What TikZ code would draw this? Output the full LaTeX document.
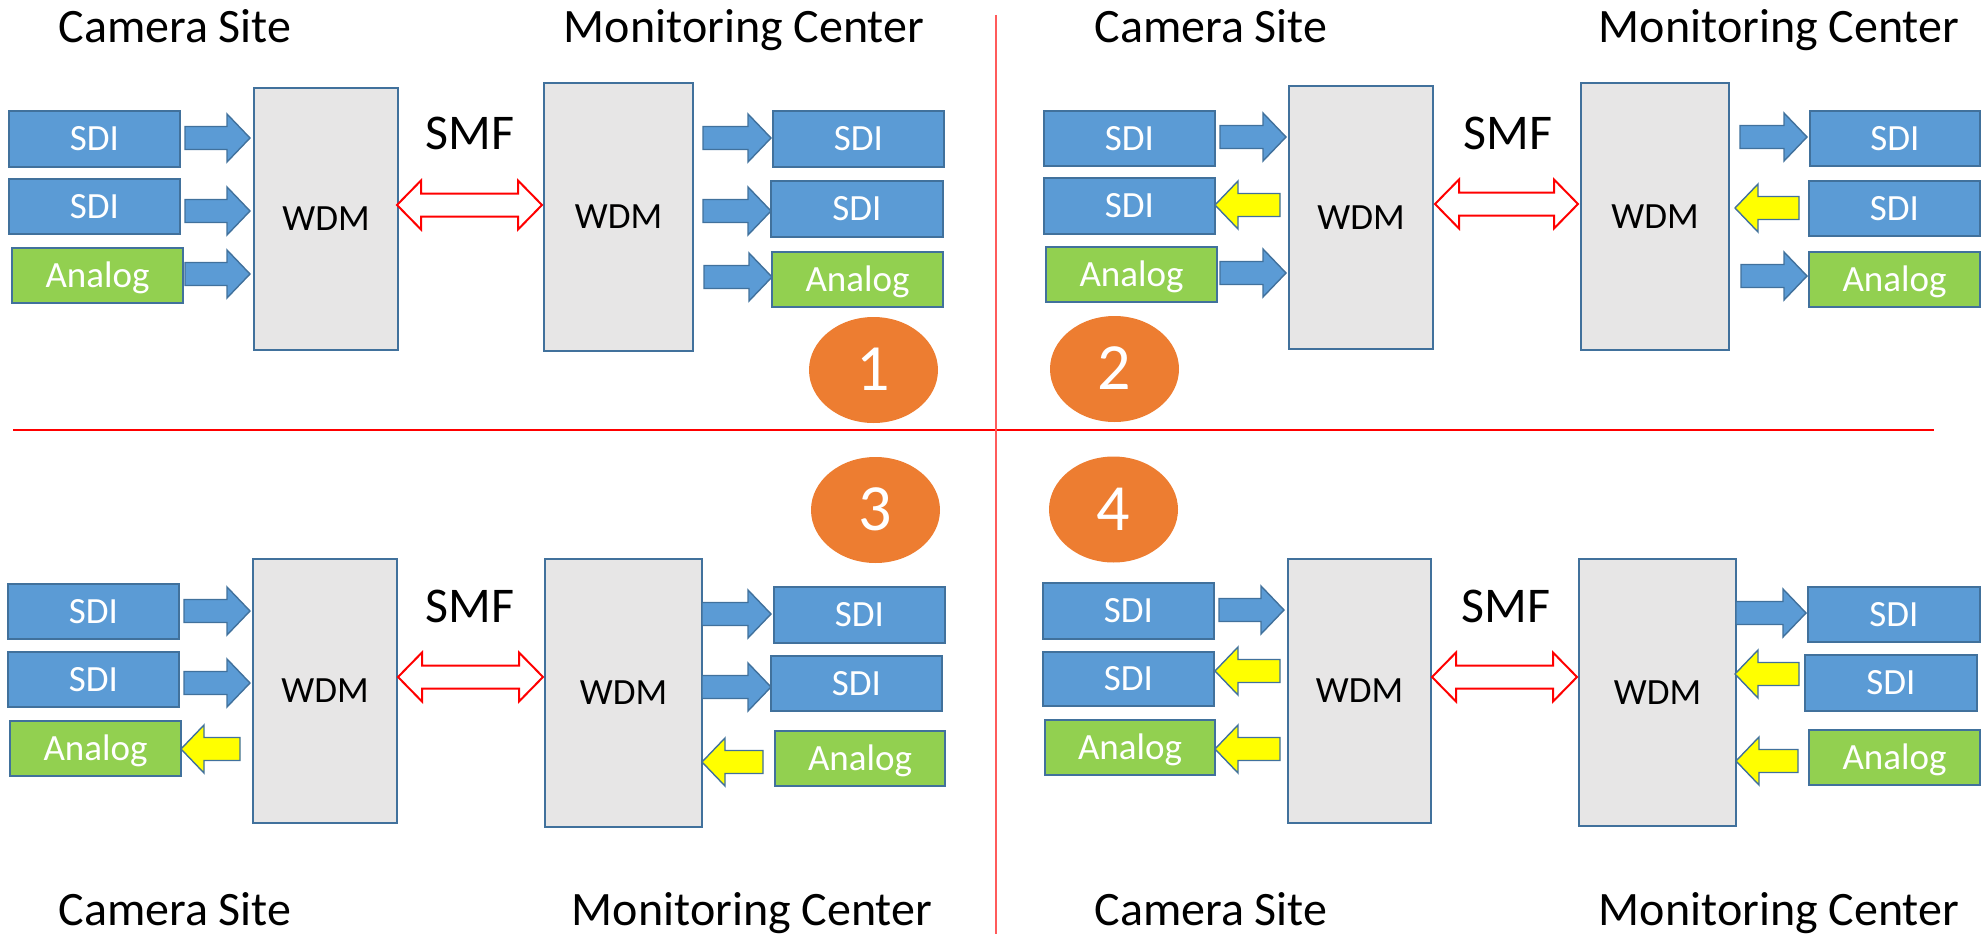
\documentclass[tikz,border=0pt]{standalone}
\usepackage{fontspec}
\setmainfont{Carlito}
\usetikzlibrary{shapes.geometric}
\definecolor{sdiblue}{HTML}{5B9BD5}
\definecolor{edgeblue}{HTML}{41719C}
\definecolor{anagreen}{HTML}{92D050}
\definecolor{wdmgray}{HTML}{E7E6E6}
\definecolor{arryellow}{HTML}{FFFF00}
\definecolor{numorange}{HTML}{ED7D31}
\definecolor{vline}{HTML}{FF5B5B}
\newcommand\placebox[7]{\node[#1,minimum width={(#4-#2)*1pt},minimum height={(#5-#3)*1pt}] (#6) at ({(#2+#4)/2},{(#3+#5)/2}) {#7};}
\newcommand\blockarrow[4]{%
  \pgfmathsetmacro\hl{#3>#2 ? 23 : -23}%
  \draw[#1] ({#2},{#4-11.5}) -- ({#3-\hl},{#4-11.5}) -- ({#3-\hl},{#4-24}) -- ({#3},{#4}) -- ({#3-\hl},{#4+24}) -- ({#3-\hl},{#4+11.5}) -- ({#2},{#4+11.5}) -- cycle;}
\newcommand\smfarrow[3]{%
  \draw[smf] ({#1},{#3}) -- ({#1+24},{#3-24.5}) -- ({#1+24},{#3-11.5}) -- ({#2-24},{#3-11.5}) -- ({#2-24},{#3-24.5}) -- ({#2},{#3}) -- ({#2-24},{#3+24.5}) -- ({#2-24},{#3+11.5}) -- ({#1+24},{#3+11.5}) -- ({#1+24},{#3+24.5}) -- cycle;}
\tikzset{
  boxbase/.style={rectangle,draw=edgeblue,line width=2.6pt,inner sep=0pt,text=white,
    font=\fontsize{37}{40}\selectfont,text height=23.4pt,text depth=0pt},
  sdi/.style={boxbase,fill=sdiblue},
  ana/.style={boxbase,fill=anagreen},
  wdm/.style={boxbase,fill=wdmgray,line width=2pt,text=black},
  barrow/.style={fill=sdiblue,draw=edgeblue,line width=1.4pt,line join=miter},
  yarrow/.style={fill=arryellow,draw=edgeblue,line width=1.4pt,line join=miter},
  smf/.style={fill=white,draw=red,line width=2pt,line join=miter},
  lbl/.style={anchor=base,inner sep=0pt,font=\fontsize{48}{52}\selectfont},
  smflbl/.style={anchor=base,inner sep=0pt,font=\fontsize{50}{54}\selectfont},
  num/.style={ellipse,fill=numorange,inner sep=0pt,minimum width=129pt,minimum height=106pt,
    text=white,font=\fontsize{66}{70}\selectfont,text height=41.5pt,text depth=0pt}
}
\begin{document}
\begin{tikzpicture}[x=1pt,y=-1pt]
\useasboundingbox (0,0) rectangle (1982,934);
% separators
\draw[red,line width=2pt] (13,430) -- (1934,430);
\draw[vline,line width=2.4pt] (996,15) -- (996,934);
% ---------- labels
\node[lbl] (t1c) at (175,43) {Camera Site};
\node[lbl] (t1m) at (744,43) {Monitoring Center};
\node[lbl] (t2c) at (1211,43) {Camera Site};
\node[lbl] (t2m) at (1779,43) {Monitoring Center};
\node[lbl] (b3c) at (175,925) {Camera Site};
\node[lbl] (b3m) at (752,925) {Monitoring Center};
\node[lbl] (b4c) at (1211,925) {Camera Site};
\node[lbl] (b4m) at (1779,925) {Monitoring Center};
% ---------- panel 1
\placebox{sdi}{9}{111}{180}{167}{p1s1}{SDI}
\placebox{sdi}{9}{179}{180}{234}{p1s2}{SDI}
\placebox{ana}{12}{248}{183}{303}{p1a}{Analog}
\placebox{wdm}{254}{88}{398}{350}{p1wl}{WDM}
\placebox{wdm}{544}{83}{693}{351}{p1wr}{WDM}
\placebox{sdi}{773}{111}{944}{167}{p1r1}{SDI}
\placebox{sdi}{771}{181}{943}{237}{p1r2}{SDI}
\placebox{ana}{772}{252}{943}{307}{p1r3}{Analog}
\blockarrow{barrow}{185}{250}{138}
\blockarrow{barrow}{185}{250}{211}
\blockarrow{barrow}{185}{250}{274}
\blockarrow{barrow}{703}{771}{138}
\blockarrow{barrow}{703}{771}{211}
\blockarrow{barrow}{704}{772}{277}
\smfarrow{397}{542}{205}
\node[smflbl] (p1smf) at (470,149) {SMF};
\node[num] (n1) at (873.5,370) {1};
% ---------- panel 2
\placebox{sdi}{1044}{111}{1215}{166}{p2s1}{SDI}
\placebox{sdi}{1044}{178}{1215}{234}{p2s2}{SDI}
\placebox{ana}{1046}{247}{1217}{302}{p2a}{Analog}
\placebox{wdm}{1289}{86}{1433}{349}{p2wl}{WDM}
\placebox{wdm}{1581}{83}{1729}{350}{p2wr}{WDM}
\placebox{sdi}{1810}{111}{1980}{166}{p2r1}{SDI}
\placebox{sdi}{1809}{181}{1980}{236}{p2r2}{SDI}
\placebox{ana}{1809}{252}{1980}{307}{p2r3}{Analog}
\blockarrow{barrow}{1220}{1286}{137}
\blockarrow{yarrow}{1280}{1215}{205}
\blockarrow{barrow}{1220}{1286}{273}
\blockarrow{barrow}{1740}{1807}{137}
\blockarrow{yarrow}{1799}{1735}{208}
\blockarrow{barrow}{1741}{1807}{276}
\smfarrow{1435}{1578}{204}
\node[smflbl] (p2smf) at (1508,149) {SMF};
\node[num] (n2) at (1114.5,369) {2};
% ---------- panel 3
\placebox{sdi}{8}{584}{179}{639}{p3s1}{SDI}
\placebox{sdi}{8}{652}{179}{707}{p3s2}{SDI}
\placebox{ana}{10}{721}{181}{776}{p3a}{Analog}
\placebox{wdm}{253}{559}{397}{823}{p3wl}{WDM}
\placebox{wdm}{545}{559}{702}{827}{p3wr}{WDM}
\placebox{sdi}{774}{587}{945}{643}{p3r1}{SDI}
\placebox{sdi}{771}{656}{942}{711}{p3r2}{SDI}
\placebox{ana}{775}{731}{945}{786}{p3r3}{Analog}
\blockarrow{barrow}{184}{250}{611}
\blockarrow{barrow}{184}{250}{683}
\blockarrow{yarrow}{240}{181}{749}
\blockarrow{barrow}{702}{771}{614}
\blockarrow{barrow}{702}{771}{687}
\blockarrow{yarrow}{763}{702}{762}
\smfarrow{398}{543}{677}
\node[smflbl] (p3smf) at (470,622) {SMF};
\node[num] (n3) at (875.5,510) {3};
% ---------- panel 4
\placebox{sdi}{1043}{583}{1214}{639}{p4s1}{SDI}
\placebox{sdi}{1043}{652}{1214}{706}{p4s2}{SDI}
\placebox{ana}{1045}{720}{1215}{775}{p4a}{Analog}
\placebox{wdm}{1288}{559}{1431}{823}{p4wl}{WDM}
\placebox{wdm}{1579}{559}{1736}{826}{p4wr}{WDM}
\placebox{sdi}{1808}{587}{1980}{642}{p4r1}{SDI}
\placebox{sdi}{1805}{655}{1977}{711}{p4r2}{SDI}
\placebox{ana}{1809}{730}{1980}{785}{p4r3}{Analog}
\blockarrow{barrow}{1219}{1284}{610}
\blockarrow{yarrow}{1280}{1215}{671}
\blockarrow{yarrow}{1280}{1215}{749}
\blockarrow{barrow}{1736}{1806}{613}
\blockarrow{yarrow}{1799}{1735}{674}
\blockarrow{yarrow}{1798}{1736}{761}
\smfarrow{1432}{1577}{677}
\node[smflbl] (p4smf) at (1506,622) {SMF};
\node[num] (n4) at (1113.5,509.5) {4};
\end{tikzpicture}
\end{document}
